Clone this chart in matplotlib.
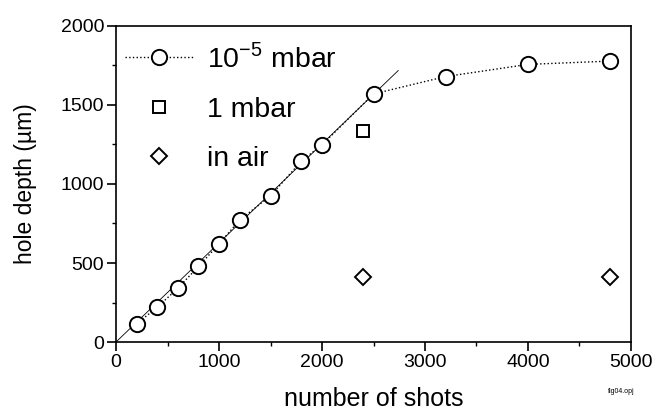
import matplotlib.pyplot as plt
from matplotlib.ticker import MultipleLocator

plt.rcParams['font.family'] = ['Liberation Sans', 'DejaVu Sans']

# 10^-5 mbar series
shots_vac = [200, 400, 600, 800, 1000, 1200, 1500, 1800, 2000, 2500, 3200, 4000, 4800]
depth_vac = [115, 220, 340, 478, 620, 772, 925, 1145, 1248, 1570, 1680, 1757, 1778]
# 1 mbar
shots_1mbar = [2400]
depth_1mbar = [1335]
# in air
shots_air = [2400, 4800]
depth_air = [412, 410]
# linear fit through origin
fit_x = [0, 2740]
fit_y = [0, 1718]

fig = plt.figure(figsize=(6.57, 4.12), dpi=100)
ax = fig.add_axes([0.1766, 0.1699, 0.7838, 0.767])

ax.plot(fit_x, fit_y, '-', color='black', lw=0.6)
ax.plot(shots_vac, depth_vac, ':', color='black', lw=1.0, marker='o', ms=11,
        mfc='white', mec='black', mew=1.4, label=r'10$^{\mathregular{-5}}$ mbar')
ax.plot(shots_1mbar, depth_1mbar, ls='none', marker='s', ms=8,
        mfc='white', mec='black', mew=1.4, label='1 mbar')
ax.plot(shots_air, depth_air, ls='none', marker='D', ms=8,
        mfc='white', mec='black', mew=1.4, label='in air')

ax.set_xlim(0, 5000)
ax.set_ylim(0, 2000)
ax.xaxis.set_major_locator(MultipleLocator(1000))
ax.xaxis.set_minor_locator(MultipleLocator(500))
ax.yaxis.set_major_locator(MultipleLocator(500))
ax.yaxis.set_minor_locator(MultipleLocator(250))
ax.tick_params(which='major', direction='out', length=6.5, width=1.2,
               labelsize=14, pad=2)
ax.tick_params(which='minor', direction='out', length=3, width=1.0)
for s in ax.spines.values():
    s.set_linewidth(1.2)

ax.set_xlabel('number of shots', fontsize=18, labelpad=12)
ax.set_ylabel('hole depth (\u00b5m)', fontsize=16.5, labelpad=17)

ax.legend(loc='upper left', bbox_to_anchor=(0.017, 0.945), frameon=False,
          fontsize=20.5, handlelength=2.4, labelspacing=0.82,
          handletextpad=0.5, borderaxespad=0, borderpad=0)

fig.text(0.945, 0.045, 'fig04.opj', fontsize=5, ha='center')

fig.savefig('out.png', dpi=100)
